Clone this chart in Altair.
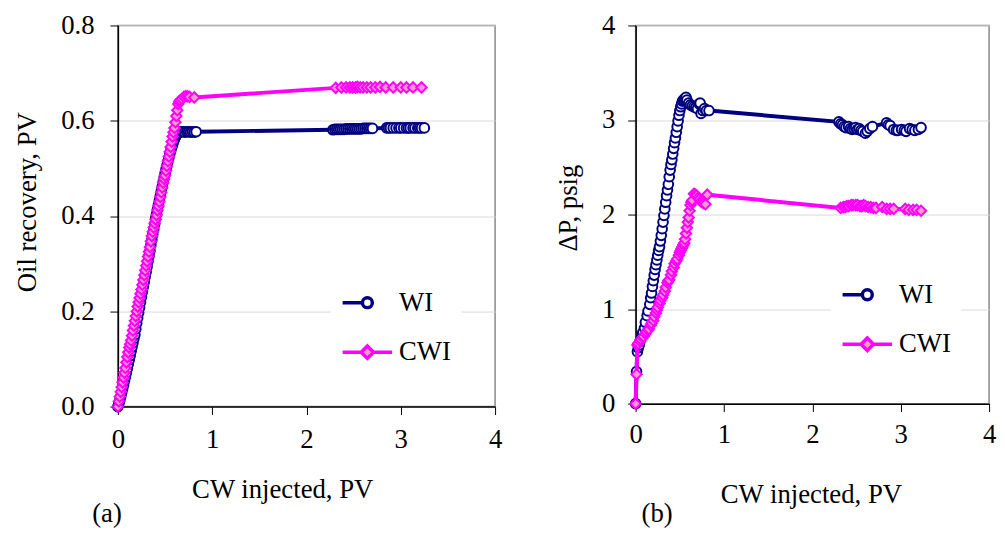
import altair as alt
import pandas as pd

FONT = "'Liberation Serif', 'Times New Roman', Times, 'DejaVu Serif', serif"
NAVY = "#000080"
MAGENTA = "#FF00FF"
PINK = "#FF99CC"

series = ["WI", "CWI"]
x_ticks = [0, 1, 2, 3, 4]
or_ticks = [0.0, 0.2, 0.4, 0.6, 0.8]
dp_ticks = [0, 1, 2, 3, 4]

# ---- panel (a): oil recovery, PV ----
or_wi_x = [0, 0.01, 0.02, 0.03, 0.04, 0.05, 0.06, 0.07, 0.08, 0.09, 0.10, 0.11, 0.12, 0.13,
           0.14, 0.15, 0.16, 0.17, 0.18, 0.19, 0.20, 0.21, 0.22, 0.23, 0.24, 0.25, 0.26, 0.27,
           0.28, 0.29, 0.30, 0.31, 0.32, 0.33, 0.34, 0.35, 0.36, 0.37, 0.38, 0.39, 0.40, 0.41,
           0.42, 0.43, 0.44, 0.45, 0.46, 0.47, 0.48, 0.49, 0.50, 0.51, 0.52, 0.53, 0.54, 0.55,
           0.56, 0.57, 0.58, 0.59, 0.60, 0.61, 0.62, 0.63, 0.64, 0.65, 0.66, 0.67, 0.69, 0.71,
           0.73, 0.75, 0.77, 0.79, 0.81, 0.83,
           2.28, 2.30, 2.32, 2.34, 2.36, 2.38, 2.40, 2.42, 2.44, 2.46, 2.48, 2.50, 2.52, 2.54,
           2.56, 2.58, 2.60, 2.62, 2.64, 2.66, 2.68, 2.70, 2.85, 2.87, 2.89, 2.92, 2.95, 2.98,
           3.00, 3.03, 3.06, 3.08, 3.10, 3.13, 3.15, 3.18, 3.20, 3.22, 3.25]
or_wi_y = [0, 0.006, 0.013, 0.021, 0.029, 0.037, 0.045, 0.054, 0.062, 0.071, 0.080, 0.089,
           0.098, 0.107, 0.116, 0.125, 0.134, 0.143, 0.151, 0.163, 0.175, 0.186, 0.197, 0.208,
           0.219, 0.230, 0.241, 0.252, 0.262, 0.273, 0.283, 0.294, 0.305, 0.316, 0.327, 0.339,
           0.350, 0.361, 0.372, 0.383, 0.395, 0.404, 0.414, 0.423, 0.433, 0.442, 0.452, 0.461,
           0.471, 0.480, 0.489, 0.498, 0.506, 0.514, 0.522, 0.530, 0.537, 0.544, 0.550, 0.556,
           0.561, 0.566, 0.570, 0.573, 0.575, 0.576, 0.577, 0.577, 0.577, 0.576, 0.577, 0.577,
           0.576, 0.577, 0.576, 0.577,
           0.581, 0.582, 0.582, 0.582, 0.582, 0.582, 0.582, 0.583, 0.583, 0.583, 0.583, 0.583,
           0.583, 0.583, 0.583, 0.583, 0.584, 0.584, 0.584, 0.584, 0.584, 0.584, 0.585, 0.585,
           0.585, 0.585, 0.585, 0.585, 0.585, 0.585, 0.585, 0.585, 0.585, 0.585, 0.585, 0.585,
           0.585, 0.585, 0.585]
or_cwi_x = [0, 0.01, 0.02, 0.03, 0.04, 0.05, 0.06, 0.07, 0.08, 0.09, 0.10, 0.11, 0.12, 0.13,
            0.14, 0.15, 0.16, 0.17, 0.18, 0.19, 0.20, 0.21, 0.22, 0.23, 0.24, 0.25, 0.26, 0.27,
            0.28, 0.29, 0.30, 0.31, 0.32, 0.33, 0.34, 0.35, 0.36, 0.37, 0.38, 0.39, 0.40, 0.41,
            0.42, 0.43, 0.44, 0.45, 0.46, 0.47, 0.48, 0.49, 0.50, 0.51, 0.52, 0.53, 0.54, 0.55,
            0.56, 0.57, 0.58, 0.59, 0.60, 0.61, 0.62, 0.63, 0.64, 0.65, 0.66, 0.68, 0.70, 0.72,
            0.74, 0.76, 0.81,
            2.31, 2.37, 2.42, 2.46, 2.49, 2.52, 2.54, 2.57, 2.60, 2.64, 2.68, 2.73, 2.78, 2.84,
            2.92, 3.00, 3.06, 3.13, 3.22]
or_cwi_y = [0, 0.011, 0.021, 0.031, 0.041, 0.051, 0.061, 0.071, 0.081, 0.093, 0.104, 0.114,
            0.124, 0.131, 0.139, 0.149, 0.160, 0.170, 0.180, 0.190, 0.200, 0.210, 0.219, 0.228,
            0.237, 0.246, 0.256, 0.266, 0.276, 0.286, 0.296, 0.305, 0.315, 0.325, 0.335, 0.347,
            0.358, 0.367, 0.376, 0.385, 0.393, 0.402, 0.412, 0.421, 0.430, 0.440, 0.450, 0.460,
            0.470, 0.478, 0.485, 0.495, 0.505, 0.515, 0.525, 0.535, 0.545, 0.556, 0.567, 0.576,
            0.585, 0.597, 0.610, 0.622, 0.635, 0.640, 0.643, 0.646, 0.650, 0.652, 0.651, 0.650,
            0.649,
            0.669, 0.670, 0.670, 0.670, 0.670, 0.670, 0.671, 0.670, 0.670, 0.670, 0.670, 0.670,
            0.671, 0.670, 0.670, 0.670, 0.670, 0.670, 0.670]

# ---- panel (b): pressure drop, psig ----
dp_wi_x = [0, 0.01, 0.02, 0.03, 0.04, 0.05, 0.07, 0.08, 0.10, 0.11, 0.13, 0.14, 0.16, 0.17,
           0.18, 0.19, 0.20, 0.21, 0.22, 0.23, 0.24, 0.25, 0.26, 0.27, 0.28, 0.29, 0.30, 0.31,
           0.32, 0.33, 0.34, 0.35, 0.36, 0.37, 0.38, 0.39, 0.40, 0.41, 0.42, 0.43, 0.44, 0.45,
           0.46, 0.47, 0.48, 0.49, 0.50, 0.51, 0.52, 0.53, 0.54, 0.55, 0.56, 0.57, 0.58, 0.60,
           0.62, 0.64, 0.66, 0.68, 0.70, 0.72, 0.73, 0.74, 0.76, 0.78, 0.80, 0.83,
           2.30, 2.32, 2.34, 2.36, 2.38, 2.41, 2.43, 2.45, 2.47, 2.49, 2.51, 2.53, 2.55, 2.57,
           2.60, 2.62, 2.65, 2.68, 2.84, 2.86, 2.88, 2.92, 2.95, 2.97, 3.01, 3.04, 3.06, 3.10,
           3.13, 3.16, 3.20, 3.23]
dp_wi_y = [0, 0.34, 0.55, 0.59, 0.62, 0.66, 0.72, 0.75, 0.80, 0.86, 0.93, 0.98, 1.05, 1.12,
           1.17, 1.24, 1.30, 1.36, 1.42, 1.47, 1.52, 1.57, 1.62, 1.66, 1.72, 1.78, 1.85, 1.92,
           1.99, 2.06, 2.13, 2.20, 2.26, 2.32, 2.40, 2.47, 2.53, 2.58, 2.64, 2.70, 2.76, 2.81,
           2.87, 2.93, 2.99, 3.05, 3.10, 3.14, 3.17, 3.20, 3.21, 3.22, 3.23, 3.24, 3.21, 3.18,
           3.16, 3.15, 3.14, 3.13, 3.12, 3.17, 3.18, 3.07, 3.10, 3.12, 3.10, 3.10,
           2.98, 2.96, 2.95, 2.93, 2.92, 2.93, 2.91, 2.90, 2.91, 2.92, 2.90, 2.91, 2.89, 2.88,
           2.86, 2.88, 2.91, 2.93, 2.97, 2.95, 2.94, 2.90, 2.89, 2.89, 2.90, 2.89, 2.88, 2.91,
           2.90, 2.89, 2.90, 2.92]
dp_cwi_x = [0, 0.01, 0.02, 0.03, 0.05, 0.06, 0.08, 0.09, 0.11, 0.12, 0.14, 0.15, 0.17, 0.18,
            0.20, 0.21, 0.23, 0.24, 0.25, 0.27, 0.28, 0.30, 0.31, 0.33, 0.34, 0.36, 0.37, 0.38,
            0.40, 0.41, 0.43, 0.44, 0.46, 0.47, 0.49, 0.50, 0.51, 0.52, 0.53, 0.54, 0.55, 0.56,
            0.57, 0.58, 0.59, 0.60, 0.61, 0.62, 0.63, 0.64, 0.66, 0.68, 0.69, 0.71, 0.72, 0.74,
            0.75, 0.77, 0.79, 0.81,
            2.32, 2.35, 2.37, 2.39, 2.41, 2.44, 2.46, 2.49, 2.51, 2.54, 2.56, 2.58, 2.60, 2.63,
            2.66, 2.69, 2.72, 2.79, 2.84, 2.88, 2.92, 3.05, 3.09, 3.14, 3.18, 3.23]
dp_cwi_y = [0, 0.31, 0.62, 0.64, 0.66, 0.68, 0.70, 0.71, 0.74, 0.76, 0.78, 0.79, 0.83, 0.85,
            0.88, 0.92, 0.96, 0.99, 1.02, 1.06, 1.09, 1.12, 1.15, 1.19, 1.23, 1.28, 1.30, 1.31,
            1.36, 1.40, 1.44, 1.48, 1.51, 1.53, 1.57, 1.60, 1.62, 1.64, 1.66, 1.68, 1.70, 1.74,
            1.80, 1.86, 1.92, 1.97, 2.04, 2.10, 2.13, 2.15, 2.22, 2.21, 2.20, 2.18, 2.16, 2.14,
            2.13, 2.12, 2.11, 2.21,
            2.07, 2.08, 2.08, 2.09, 2.09, 2.10, 2.10, 2.10, 2.10, 2.09, 2.09, 2.10, 2.09, 2.08,
            2.08, 2.07, 2.07, 2.08, 2.06, 2.06, 2.06, 2.06, 2.05, 2.05, 2.05, 2.04]

WI_PATH = "M-1,0L-0.2,0M0.2,0A0.2,0.2,0,1,1,-0.2,0A0.2,0.2,0,1,1,0.2,0Z"
CWI_PATH = "M-1,0L-0.25,0M0.25,0L1,0M0,-0.25L0.25,0L0,0.25L-0.25,0Z"


def panel(xw, yw, xc, yc, ydom, yticks, yfmt, ytitle, W, H, xax, yax, legxy, tag):
    dw = pd.DataFrame({"x": xw, "y": yw, "i": list(range(len(xw)))})
    dc = pd.DataFrame({"x": xc, "y": yc, "i": list(range(len(xc)))})
    X = alt.X("x:Q", scale=alt.Scale(domain=[0, 4], nice=False, zero=False),
              axis=alt.Axis(title="CW injected, PV", values=x_ticks, format="d", grid=False,
                            labelFlush=False, titleAlign="center", titleBaseline="middle",
                            **xax))
    Y = alt.Y("y:Q", scale=alt.Scale(domain=ydom, nice=False, zero=False),
              axis=alt.Axis(title=ytitle, values=yticks, format=yfmt, grid=True,
                            gridColor="#d9d9d9", gridWidth=1, titleAngle=270, labelFlush=False,
                            titleAlign="center", titleBaseline="middle", **yax))
    o = alt.Order("i:Q")
    l_wi = alt.Chart(dw).mark_line(color=NAVY, strokeWidth=4).encode(x=X, y=Y, order=o)
    p_wi = alt.Chart(dw).mark_point(shape="circle", filled=True, fill="white", stroke=NAVY,
                                    strokeWidth=2, size=95, opacity=1).encode(x=X, y=Y)
    l_cwi = alt.Chart(dc).mark_line(color=MAGENTA, strokeWidth=4).encode(x=X, y=Y, order=o)
    p_cwi = alt.Chart(dc).mark_point(shape="diamond", filled=True, fill=PINK, stroke=MAGENTA,
                                     strokeWidth=2, size=110, opacity=1).encode(x=X, y=Y)
    leg = alt.Legend(title=None, orient="none", legendX=legxy[0], legendY=legxy[1],
                     symbolSize=2500, symbolStrokeWidth=3.5, labelFont=FONT, labelFontSize=27,
                     labelColor="black", labelOffset=5, fillColor="white", padding=10,
                     rowPadding=0, clipHeight=50, labelLimit=300)
    ldf = pd.DataFrame({"series": series})
    l_leg = alt.Chart(ldf).mark_point(filled=True, size=2500, opacity=1).transform_filter(
        "false").encode(
        stroke=alt.Stroke("series:N", scale=alt.Scale(domain=series, range=[NAVY, MAGENTA]),
                          legend=leg),
        fill=alt.Fill("series:N", scale=alt.Scale(domain=series, range=["white", PINK]),
                      legend=leg),
        shape=alt.Shape("series:N", scale=alt.Scale(domain=series, range=[WI_PATH, CWI_PATH]),
                        legend=leg),
    )
    return alt.layer(l_wi, p_wi, l_cwi, p_cwi, l_leg).properties(
        width=W, height=H, title=tag)


common = dict(tickSize=8, domainColor="black", domainWidth=1.5, tickColor="black")

left = panel(or_wi_x, or_wi_y, or_cwi_x, or_cwi_y, [0, 0.8], or_ticks, ".1f",
             "Oil recovery, PV", 381, 385,
             dict(labelPadding=12, titleX=166, titleY=84, **common),
             dict(labelPadding=16, titleX=-91, titleY=178, **common),
             (215, 245),
             alt.TitleParams("(a)", orient="bottom", anchor="start", frame="group", dx=-26,
                             offset=-1, font=FONT, fontSize=27, fontWeight="normal",
                             color="black"))
right = panel(dp_wi_x, dp_wi_y, dp_cwi_x, dp_cwi_y, [0, 4], dp_ticks, "d",
              "\u0394P, psig", 357, 382,
              dict(labelPadding=10, titleX=177, titleY=92, **common),
              dict(labelPadding=13, titleX=-68, titleY=184, **common),
              (197, 237),
              alt.TitleParams("(b)", orient="bottom", anchor="start", frame="group", dx=6,
                              offset=-6, font=FONT, fontSize=27, fontWeight="normal",
                              color="black"))

chart = alt.hconcat(left, right, spacing=51).resolve_scale(
    stroke="independent", fill="independent", shape="independent"
).resolve_legend(
    stroke="independent", fill="independent", shape="independent"
).properties(
    padding={"left": 5, "top": 0, "right": 0, "bottom": 0}
).configure_view(
    stroke="#888888", strokeWidth=1.5
).configure_axis(
    labelFont=FONT, labelFontSize=27, labelColor="black",
    titleFont=FONT, titleFontSize=27, titleColor="black", titleFontWeight="normal",
)

chart.save("out.html", embed_options={"renderer": "svg", "actions": False})
